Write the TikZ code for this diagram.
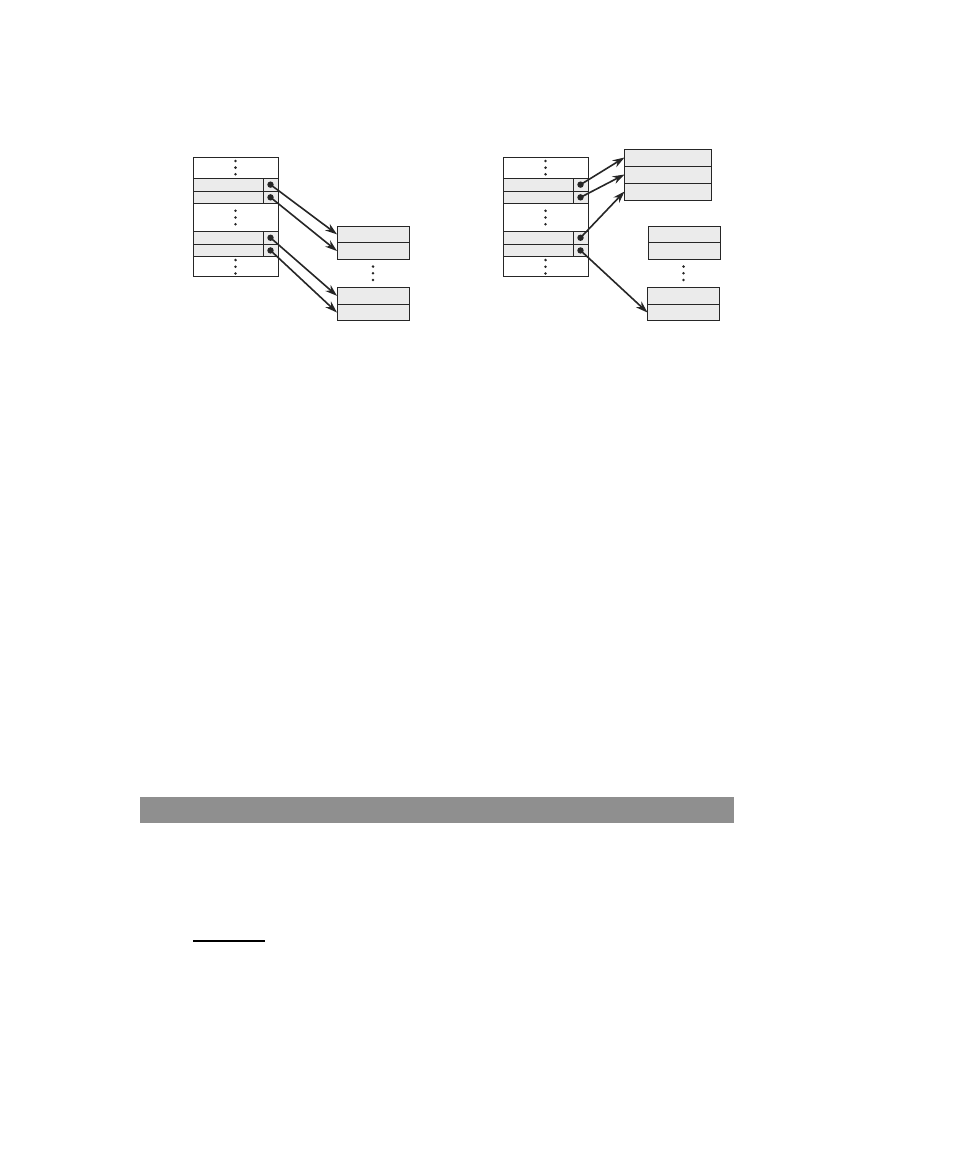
\documentclass[tikz,border=0pt]{standalone}
\usetikzlibrary{arrows.meta,positioning}
\definecolor{rowgrey}{gray}{0.92}
\definecolor{barfill}{gray}{0.56}
\definecolor{linegrey}{gray}{0.15}

\begin{document}
\begin{tikzpicture}[x=0.5pt,y=-0.5pt,node distance=0pt,
  cellbase/.style={draw=linegrey,line width=0.45pt,inner sep=0pt,outer sep=0pt},
  blankcell/.style={cellbase,minimum width=42.5pt},
  datacell/.style={cellbase,fill=rowgrey,minimum width=35pt,minimum height=6.35pt},
  ptrcell/.style={datacell,minimum width=7.5pt},
  boxrow/.style={cellbase,fill=rowgrey,minimum width=36pt,minimum height=8.35pt},
  widerow/.style={boxrow,minimum width=43.5pt,minimum height=8.5pt},
  ptr/.style={-{Stealth[length=6pt,width=4pt]},line width=0.8pt,draw=linegrey}]
\useasboundingbox (0,0) rectangle (959,1159);

% the two page tables
\foreach \t/\x in {L/193,R/503}{
  \node[blankcell,minimum height=10.65pt,anchor=north west] (\t top) at (\x,157) {};
  \node[datacell] (\t r1) [below right=0pt of \t top.south west] {};
  \node[datacell] (\t r2) [below right=0pt of \t r1.south west] {};
  \node[blankcell,minimum height=13.85pt] (\t mid) [below right=0pt of \t r2.south west] {};
  \node[datacell] (\t r3) [below right=0pt of \t mid.south west] {};
  \node[datacell] (\t r4) [below right=0pt of \t r3.south west] {};
  \node[blankcell,minimum height=10pt] (\t bot) [below right=0pt of \t r4.south west] {};
  \foreach \r in {1,2,3,4}{
    \node[ptrcell] (\t p\r) [right=0pt of \t r\r] {};
    \fill[linegrey] (\t p\r.center) circle (1.6pt);
  }
  \foreach \c in {top,mid,bot}
    \foreach \d in {-1,0,1}
      \fill[linegrey] (\t\c.center) ++(0,\d*6.7) circle (0.7pt);
}

% target frames, left picture
\node[boxrow,anchor=north west] (A1) at (337,226) {};
\node[boxrow] (A2) [below=of A1] {};
\node[boxrow,anchor=north west] (B1) at (337,287.5) {};
\node[boxrow] (B2) [below=of B1] {};

% target frames, right picture
\node[widerow,anchor=north west] (C1) at (624.5,149) {};
\node[widerow] (C2) [below=of C1] {};
\node[widerow] (C3) [below=of C2] {};
\node[boxrow,anchor=north west] (D1) at (648.5,226) {};
\node[boxrow] (D2) [below=of D1] {};
\node[boxrow,anchor=north west] (E1) at (647.5,287.5) {};
\node[boxrow] (E2) [below=of E1] {};

\foreach \x in {373,683.5}
  \foreach \d in {-1,0,1}
    \fill[linegrey] (\x,273.3) ++(0,\d*6.7) circle (0.7pt);

% pointers
\draw[ptr] (Lp1.center) -- (A1.west);
\draw[ptr] (Lp2.center) -- (A2.west);
\draw[ptr] (Lp3.center) -- (B1.west);
\draw[ptr] (Lp4.center) -- (B2.west);
\draw[ptr] (Rp1.center) -- (C1.west);
\draw[ptr] (Rp2.center) -- (C2.west);
\draw[ptr] (Rp3.center) -- (C3.west);
\draw[ptr] (Rp4.center) -- (E2.west);

% page furniture
\fill[barfill] (140,797) rectangle (734,823);
\draw[line width=0.6pt] (193,941) -- (265,941);
\end{tikzpicture}
\end{document}
